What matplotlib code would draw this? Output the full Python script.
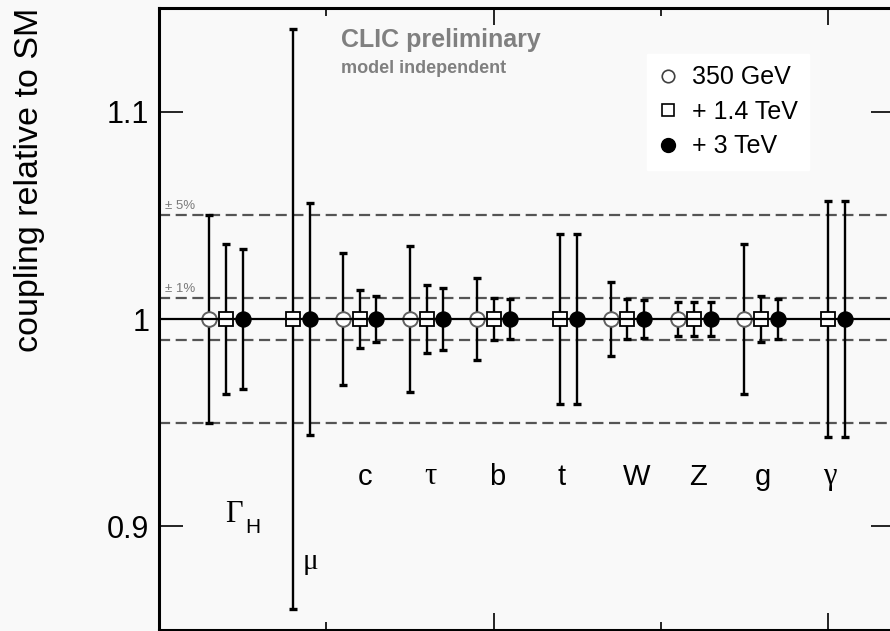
import numpy as np
import matplotlib
matplotlib.use("Agg")
import matplotlib.pyplot as plt
from matplotlib.lines import Line2D

# couplings, position 1..10 on the x axis
groups = ['Gamma_H', 'mu', 'c', 'tau', 'b', 't', 'W', 'Z', 'g', 'gamma']
group_pos = np.arange(1, 11)

# relative uncertainties (fraction), nan = not measured at that stage
err_350 = [0.050, np.nan, 0.032, 0.035, 0.020, np.nan, 0.018, 0.008, 0.036, np.nan]
err_1400 = [0.036, 0.140, 0.014, 0.0165, 0.010, 0.041, 0.0095, 0.008, 0.011, 0.057]
err_3000 = [0.034, 0.056, 0.011, 0.015, 0.0095, 0.041, 0.0093, 0.008, 0.0098, 0.057]

legend_labels = ['350 GeV', '+ 1.4 TeV', '+ 3 TeV']

# label text for each group (drawn under the points)
plain_labels = ['c', 'b', 't', 'W', 'Z', 'g']
plain_x = [3.08, 5.05, 6.01, 7.14, 8.06, 9.03]
greek_labels = ['τ', 'γ']
greek_x = [4.05, 10.03]

band_levels = [0.95, 0.99, 1.01, 1.05]

plt.rcParams['font.family'] = ['Liberation Sans', 'DejaVu Sans']

bg = '#f9f9f9'
fig = plt.figure(figsize=(8.9, 6.31), dpi=100, facecolor=bg)
ax = fig.add_axes([159 / 890, 1 / 631, 736 / 890, 622 / 631])
ax.set_facecolor(bg)

ax.set_xlim(0, 11)
ax.set_ylim(0.85, 1.15)

for lev in band_levels:
    ax.axhline(lev, color='#555555', lw=1.6, ls=(0, (5, 2.5)), zorder=1)
ax.text(0.09, 1.0515, '± 5%', fontsize=9.5, color='#7a7a7a', va='bottom', ha='left')
ax.text(0.09, 1.0115, '± 1%', fontsize=9.5, color='#7a7a7a', va='bottom', ha='left')

offsets = [-0.25, 0.0, 0.25]
styles = [
    dict(marker='o', mfc='white', mec='#606060', ms=10.5, mew=1.4),
    dict(marker='s', mfc='white', mec='black', ms=10, mew=1.3),
    dict(marker='o', mfc='black', mec='black', ms=10.5, mew=1.3),
]
all_err = [err_350, err_1400, err_3000]

for k in range(3):
    e = np.array(all_err[k])
    ok = ~np.isnan(e)
    xs = group_pos[ok] + offsets[k]
    ys = np.ones(ok.sum())
    ax.errorbar(xs, ys, yerr=e[ok], fmt='none', ecolor='black', elinewidth=1.7,
                capsize=3, capthick=2.4, zorder=3)
    z = 6 if k == 2 else 4
    ax.plot(xs, ys, ls='none', zorder=z, **styles[k])

ax.axhline(1.0, color='black', lw=1.6, zorder=5)

# group labels
for lab, xp in zip(plain_labels, plain_x):
    ax.text(xp, 0.924, lab, fontsize=21, ha='center', va='center')
for lab, xp in zip(greek_labels, greek_x):
    ax.text(xp, 0.924, lab, fontsize=22, ha='center', va='center',
            family=['Liberation Serif', 'DejaVu Serif'])
ax.text(1.12, 0.9058, 'Γ', fontsize=22, ha='center', va='center',
        family=['Liberation Serif', 'DejaVu Serif'])
ax.text(1.40, 0.8995, 'H', fontsize=15, ha='center', va='center')
ax.text(2.27, 0.8828, 'μ', fontsize=21, ha='center', va='center',
        family=['Liberation Serif', 'DejaVu Serif'])

ax.text(2.72, 1.1345, 'CLIC preliminary', fontsize=18, fontweight='bold',
        color='#808080', ha='left', va='center')
ax.text(2.72, 1.1208, 'model independent', fontsize=13, fontweight='bold',
        color='#808080', ha='left', va='center')

# axes cosmetics
ax.set_xticks([5, 10])
ax.set_xticks([2.5, 7.5], minor=True)
ax.set_xticklabels([])
ax.set_yticks([0.9, 1.0, 1.1])
ax.set_yticklabels(['0.9', '1', '1.1'])
ax.tick_params(axis='x', which='major', direction='in', length=12, width=1.2,
               top=True, bottom=True)
ax.tick_params(axis='x', which='minor', direction='in', length=6, width=1.2,
               top=True, bottom=True)
ax.tick_params(axis='y', which='major', direction='in', length=17, width=1.2,
               left=True, right=True, labelsize=22, pad=7)
ax.tick_params(axis='y', which='minor', left=False, right=False)
for sp in ax.spines.values():
    sp.set_linewidth(2.2)

fig.text(30 / 890, (631 - 180) / 631, 'coupling relative to SM', rotation=90,
         fontsize=24.5, ha='center', va='center')

handles = [Line2D([], [], ls='none', marker='o', mfc='white', mec='#404040', ms=9, mew=1.2),
           Line2D([], [], ls='none', marker='s', mfc='white', mec='black', ms=9, mew=1.2),
           Line2D([], [], ls='none', marker='o', mfc='black', mec='black', ms=10)]
leg = ax.legend(handles, legend_labels, loc='upper left', bbox_to_anchor=(0.663, 0.926),
                frameon=True, facecolor='white', edgecolor='white', framealpha=1,
                fancybox=False, fontsize=18, handlelength=0.8, handletextpad=0.55,
                labelspacing=0.42, borderpad=0.45, borderaxespad=0)
leg.set_zorder(7)

fig.savefig('out.png', dpi=100, facecolor=bg)
